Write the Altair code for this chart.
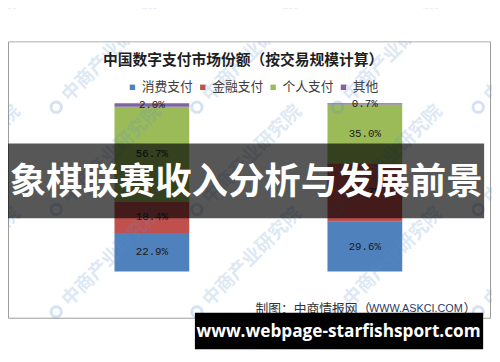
import altair as alt
import pandas as pd

# ---------------- data ----------------
years = ["2019", "2025E"]
categories = ["消费支付", "金融支付", "个人支付", "其他"]
values_2019 = [22.9, 18.4, 56.7, 2.0]
values_2025 = [29.6, 34.7, 35.0, 0.7]
colors = ["#4F81BD", "#C0504D", "#9BBB59", "#8064A2"]

title_text = "中国数字支付市场份额（按交易规模计算）"
source_left = "制图：中商情报网（"
source_url = "WWW.ASKCI.COM"
source_right = "）"
banner_text = "象棋联赛收入分析与发展前景"
footer_text = "www.webpage-starfishsport.com"
watermark_text = "中商产业研究院"

rows = []
for y, vals in zip(years, [values_2019, values_2025]):
    for i, (c, v) in enumerate(zip(categories, vals)):
        rows.append({"year": y, "cat": c, "value": v, "ord": i})
df = pd.DataFrame(rows)

one = pd.DataFrame({"t": [""]})


def text_layer(s, x, y, **kw):
    return alt.Chart(pd.DataFrame({"t": [s]})).mark_text(**kw).encode(
        text="t:N", x=alt.value(x), y=alt.value(y)
    )


def rect_layer(x1, x2, y1, y2, **kw):
    return alt.Chart(one).mark_rect(**kw).encode(
        x=alt.value(x1), x2=alt.value(x2), y=alt.value(y1), y2=alt.value(y2)
    )


# frame (background)
frame = rect_layer(-37.5, 452.5, -62.5, 218.5, fill="white", stroke="#9a9a9a", strokeWidth=1)

base = alt.Chart(df).transform_stack(
    stack="value", groupby=["year"], as_=["y0", "y1"],
    sort=[alt.SortField("ord", order="ascending")]
).transform_calculate(
    mid="(datum.y0 + datum.y1) / 2",
    label="format(datum.value, '.1f') + '%'"
)

xenc = alt.X(
    "year:N", sort=years,
    scale=alt.Scale(paddingInner=0.649, paddingOuter=0.3245),
    axis=alt.Axis(title=None, labelAngle=0, domainColor="#8c8c8c", tickColor="#8c8c8c",
                  tickSize=5, tickBand="extent", labelFont="Liberation Sans",
                  labelFontSize=11, labelColor="#404040", labelPadding=4),
)

bars = base.mark_bar().encode(
    x=xenc,
    y=alt.Y("y0:Q", scale=alt.Scale(domain=[0, 100], nice=False),
            axis=alt.Axis(title=None, values=[0, 20, 40, 60, 80, 100],
                          labelExpr="datum.value + '%'", grid=True, gridColor="#d9d9d9",
                          domain=False, ticks=False, tickSize=0, labelPadding=10,
                          labelFont="Liberation Sans", labelFontSize=10.5,
                          labelColor="#404040")),
    y2="y1:Q",
    color=alt.Color("cat:N", scale=alt.Scale(domain=categories, range=colors),
                    legend=alt.Legend(title=None, orient="none", legendX=82, legendY=-23,
                                      direction="horizontal", symbolType="square",
                                      symbolSize=30, symbolStrokeWidth=0,
                                      labelFont="Noto Sans CJK SC", labelFontSize=13,
                                      labelColor="#404040", labelOffset=3,
                                      columnPadding=2.5, padding=0)),
    order=alt.Order("ord:Q"),
)

labels = base.mark_text(font="Liberation Mono", fontSize=11, color="#1a1a1a").encode(
    x=alt.X("year:N", sort=years),
    y="mid:Q",
    text="label:N",
)

layers = [frame, bars, labels]

# watermarks
for j in range(3):
    for k in range(-1, 4):
        lx = 11 + 143 * k
        ly = 4 + 104 * j
        layers.append(
            alt.Chart(one).mark_point(shape="circle", size=110, filled=False,
                                      stroke="#5b8fd0", strokeWidth=3, opacity=0.25)
            .encode(x=alt.value(lx), y=alt.value(ly))
        )
        layers.append(text_layer(watermark_text, lx + 9, ly - 9, angle=315, align="left",
                                 baseline="middle", font="Noto Sans CJK SC", fontSize=19,
                                 fontWeight="bold", color="#5b8fd0", opacity=0.2))

# cover above frame
layers.append(rect_layer(-40, 456, -96, -63, fill="white"))

# title and source
layers.append(text_layer(title_text, 201, -44, align="center", baseline="middle",
                         font="Noto Sans CJK SC", fontSize=15, fontWeight="bold",
                         color="#1f1f1f"))
layers.append(text_layer(source_left, 213.5, 209, align="left", baseline="middle",
                         font="Noto Sans CJK SC", fontSize=13, color="#333333"))
layers.append(text_layer(source_url, 329, 209, align="left", baseline="middle",
                         font="Liberation Sans", fontSize=11, color="#1f3864"))
layers.append(text_layer(source_right, 425, 209, align="left", baseline="middle",
                         font="Noto Sans CJK SC", fontSize=13, color="#333333"))

# overlay banner
layers.append(rect_layer(-38, 446, 41, 117, fill="black", opacity=0.66))
layers.append(text_layer(banner_text, 204, 81, align="center", baseline="middle",
                         font="Noto Sans CJK SC", fontSize=37, fontWeight="bold",
                         color="white"))

# footer banner
layers.append(rect_layer(152, 445, 213, 250, fill="black"))
layers.append(text_layer(footer_text, 298, 233, align="center", baseline="middle",
                         font="Open Sans", fontSize=17.5, fontWeight="bold", color="white"))

chart = alt.layer(*layers).properties(
    width=433, height=171,
    padding={"left": 38, "top": 94, "right": 21, "bottom": 80},
    autosize=alt.AutoSizeParams(type="none"),
).configure_view(stroke=None)

chart.save("out.html", embed_options={"renderer": "svg", "actions": False})
